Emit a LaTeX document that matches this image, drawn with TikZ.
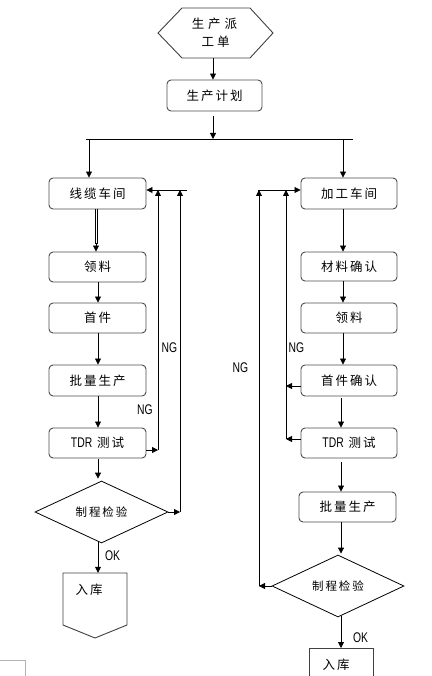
\documentclass[tikz,border=0pt]{standalone}
\usepackage{fontspec}
\setmainfont{Liberation Sans}
\newfontfamily\cjk[LetterSpace=16]{Noto Sans CJK SC}
\newfontfamily\narrow[FakeStretch=0.74]{Liberation Sans}
\usetikzlibrary{arrows.meta,shapes.geometric,calc}
\tikzset{
  box/.style={draw=black!70, line width=0.9pt, rounded corners=4pt, minimum width=97pt, minimum height=30pt, inner sep=0pt, font=\cjk\fontsize{12.5}{14}\selectfont},
  dia/.style={draw=black, line width=0.8pt, diamond, aspect=2.15, minimum width=133pt, minimum height=62pt, inner sep=0pt, font=\cjk\fontsize{11.5}{14}\selectfont},
  arr/.style={-{Triangle[length=6pt,width=6pt]}, line width=0.8pt},
  lbl/.style={font=\narrow\fontsize{14}{16}\selectfont, inner sep=0pt},
  cjkt/.style={font=\cjk\fontsize{12.5}{14}\selectfont, inner sep=0pt}
}
\begin{document}
\begin{tikzpicture}[x=1pt,y=-1pt]
\useasboundingbox (0,0) rectangle (431,676);
% hexagon
\draw[draw=black!75, line width=0.9pt] (158,33) -- (182,8) -- (250,8) -- (273,33) -- (250,58) -- (182,58) -- cycle;
\node[cjkt, align=center, minimum width=115pt, minimum height=50pt] (hex) at (213,33) {\hspace{3pt}生\hspace{4pt}产\hspace{4pt}派\\[4pt]\hspace{5pt}工\hspace{3pt}单};
\node[box, minimum width=95pt, minimum height=31pt] (plan) at (214.5,95.5) {生产计划};
\draw[arr] (hex.south) -- (plan.north -| hex.south);
\coordinate (barM) at (213,139);
\coordinate (barL) at (86,139);
\coordinate (barR) at (353,139);
\draw[arr, shorten <=5pt] (plan.south -| barM) -- (barM);
\draw[line width=0.8pt] (barL) -- (barR);
% left column
\node[box, minimum height=31pt] (xl) at (97.5,193.5) {线缆车间};
\node[box] (ll) at (97.5,267) {领料};
\node[box] (sj) at (97.5,318) {首件};
\node[box, minimum height=31pt] (pl) at (97.5,380.5) {批量生产};
\node[box] (tl) at (97.5,443) {{\narrow\fontsize{14}{16}\selectfont TDR} 测试};
\node[dia] (dl) at (101.5,512) {制程检验};
\node[minimum width=64pt, minimum height=65pt, inner sep=0pt] (rkl) at (95,605.5) {};
\draw[draw=black!75, line width=0.9pt] (63,573) -- (127,573) -- (127,625) -- (95,638) -- (63,625) -- cycle;
\node[cjkt] (rkltxt) at (89,590) {入库};
% left connectors
\coordinate (dlx) at (89,0);
\coordinate (lx) at (98,0);
\draw[arr] (barL -| dlx) -- (xl.north -| dlx);
\draw[line width=0.7pt] ($(xl.south)+(-2.5,0)$) -- ($(ll.north)+(-2.5,-8)$);
\draw[line width=0.7pt] ($(xl.south)+(-0.5,0)$) -- ($(ll.north)+(-0.5,-8)$);
\draw[arr] ($(ll.north)+(-1.5,-9)$) -- ($(ll.north)+(-1.5,0)$);
\draw[arr] (ll.south -| lx) -- (sj.north -| lx);
\draw[arr] (sj.south -| lx) -- (pl.north -| lx);
\draw[arr] (pl.south -| lx) -- (tl.north -| lx);
\draw[arr, shorten <=1pt] (tl.south -| lx) -- ($(dl.north -| lx)+(0,-2)$);
\draw[arr] ($(dl.south -| lx)+(0,-1.5)$) -- (rkl.north -| lx);
\node[lbl] (okl) at (112.5,556) {OK};
% left feedback
\coordinate (fbL) at (187,190);
\coordinate (v1t) at (158,190);
\coordinate (v1b) at (158,450);
\coordinate (v2t) at (180,190);
\coordinate (v2b) at (180,512);
\draw[arr] (fbL) -- (xl.east |- fbL);
\draw[arr] (tl.east |- v1b) -- (v1b);
\draw[arr] (v1b) -- (v1t);
\draw[arr] (dl.east) -- (v2b);
\draw[arr] (v2b) -- (v2t);
\node[lbl] (ng1) at (169.5,348) {NG};
\node[lbl] (ng2) at (145,410) {NG};
% right column
\node[box, minimum width=96pt, minimum height=31pt] (jg) at (349,193.5) {加工车间};
\node[box, minimum width=96pt, minimum height=29pt] (cl) at (349,266.5) {材料确认};
\node[box, minimum width=96pt] (lr) at (349,318) {领料};
\node[box, minimum width=96pt, minimum height=31pt] (sr) at (349,380.5) {首件确认};
\node[box, minimum width=96pt] (tr) at (349,443) {{\narrow\fontsize{14}{16}\selectfont TDR} 测试};
\node[box, minimum width=97pt] (pr) at (347.5,507) {批量生产};
\node[dia, minimum width=132pt] (dr) at (338,586) {制程检验};
\node[draw=black!75, line width=0.9pt, minimum width=64pt, minimum height=32pt, inner sep=0pt, anchor=north] (rkr) at (341,648) {};
\node[cjkt] (rkrtxt) at (336,665) {入库};
\coordinate (ax1) at (343,0);
\coordinate (ax2) at (341,0);
\draw[arr] (barR -| ax1) -- (jg.north -| ax1);
\draw[arr] (jg.south -| ax1) -- (cl.north -| ax1);
\draw[arr] (cl.south -| ax1) -- (lr.north -| ax1);
\draw[arr] (lr.south -| ax1) -- (sr.north -| ax1);
\draw[arr, shorten <=2pt] (sr.south -| ax2) -- (tr.north -| ax2);
\draw[arr, shorten <=4pt] (tr.south -| ax2) -- (pr.north -| ax2);
\draw[arr] (pr.south -| ax2) -- ($(dr.north -| ax2)+(0,-1)$);
\draw[arr] ($(dr.south -| ax2)+(0,-1)$) -- (rkr.north -| ax2);
\node[lbl] (okr) at (360.5,638) {OK};
% right feedback
\coordinate (fbR) at (258,190);
\coordinate (v3t) at (259,190);
\coordinate (v3b) at (259,586);
\coordinate (v4t) at (286,190);
\coordinate (v4m) at (286,386);
\coordinate (v4b) at (286,439);
\draw[arr] (fbR) -- (jg.west |- fbR);
\draw[arr] (dr.west) -- (v3b);
\draw[arr] (v3b) -- (v3t);
\draw[arr] (sr.west |- v4m) -- (v4m);
\draw[arr] (tr.west |- v4b) -- (v4b);
\draw[arr] (v4b) -- (v4t);
\node[lbl] (ng3) at (240.5,368) {NG};
\node[lbl] (ng4) at (296.5,348) {NG};
% page corner mark
\coordinate (cm1) at (0,660);
\coordinate (cm2) at (25,660);
\coordinate (cm3) at (25,676);
\draw[black!30, line width=0.6pt] (cm1) -- (cm2) -- (cm3);
\end{tikzpicture}
\end{document}
